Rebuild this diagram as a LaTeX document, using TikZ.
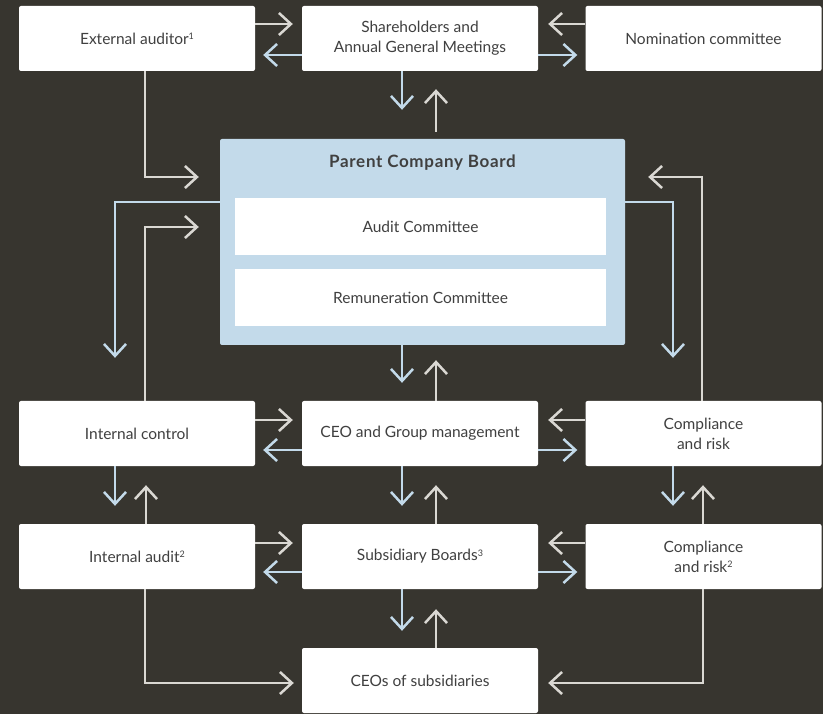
\documentclass[tikz,border=0pt]{standalone}
\usepackage{fontspec}
\setmainfont{Lato}
\usetikzlibrary{arrows.meta}
\definecolor{bgc}{HTML}{37352F}
\definecolor{grayc}{HTML}{DAD8D3}
\definecolor{bluec}{HTML}{C3DAEA}
\definecolor{txtc}{HTML}{404040}
\newcommand{\supx}[1]{\raisebox{0.6ex}{\fontsize{9}{9}\selectfont #1}}
\begin{document}
\begin{tikzpicture}[x=1pt,y=-1pt,
  box/.style={draw=none,fill=white,rounded corners=2pt,minimum width=236pt,minimum height=65pt,
    inner sep=0pt,align=center,text=txtc,font=\fontsize{15.5}{20}\selectfont},
  inbox/.style={fill=white,minimum width=371pt,minimum height=57pt,inner sep=0pt,text=txtc,
    font=\fontsize{15.5}{20}\selectfont},
  garr/.style={draw=grayc,line width=2.5pt,-{Straight Barb[length=12pt,width=22pt,line width=2.5pt]}},
  barr/.style={draw=bluec,line width=2.5pt,-{Straight Barb[length=12pt,width=22pt,line width=2.5pt]}},
]
\useasboundingbox (0,0) rectangle (823,714);
\fill[bgc] (0,0) rectangle (823,714);
% boxes
\node[box] (ext) at (137,38.5) {External auditor\supx{1}};
\node[box] (sh) at (420,38.5) {Shareholders and\\Annual General Meetings};
\node[box] (nom) at (703.5,38.5) {Nomination committee};
\node[fill=bluec,rounded corners=2pt,minimum width=405pt,minimum height=206pt,inner sep=0pt] (board) at (422.5,242) {};
\node[text=txtc,font=\fontsize{17}{20}\selectfont\bfseries\addfontfeatures{LetterSpace=4}] (title) at (422.5,163) {Parent Company Board};
\node[inbox] (aud) at (420.5,226.5) {Audit Committee};
\node[inbox] (rem) at (420.5,297.5) {Remuneration Committee};
\node[box] (ic) at (137,433.5) {Internal control};
\node[box] (ceo) at (420,433.5) {CEO and Group management};
\node[box] (cr) at (703.5,433.5) {Compliance\\and risk};
\node[box] (ia) at (137,556.5) {Internal audit\supx{2}};
\node[box] (sb) at (420,556.5) {Subsidiary Boards\supx{3}};
\node[box] (cr2) at (703.5,556.5) {Compliance\\and risk\supx{2}};
\node[box] (ceos) at (420,680.5) {CEOs of subsidiaries};
% horizontal pairs
\foreach \l/\r/\ya/\yb in {ext/sh/24/55, ic/ceo/420/450, ia/sb/543/572}{
  \draw[garr,shorten >=9pt] (\l.east |- 0,\ya) -- (\r.west |- 0,\ya);
  \draw[barr,shorten >=8pt] (\r.west |- 0,\yb) -- (\l.east |- 0,\yb);
}
\foreach \l/\r/\ya/\yb in {sh/nom/24/55, ceo/cr/420/450, sb/cr2/543/572}{
  \draw[garr,shorten >=10pt] (\r.west |- 0,\ya) -- (\l.east |- 0,\ya);
  \draw[barr,shorten >=8pt] (\l.east |- 0,\yb) -- (\r.west |- 0,\yb);
}
% verticals
\draw[barr,shorten >=29pt] (sh.south -| 402,0) -- (board.north -| 402,0);
\draw[garr,shorten <=7pt,shorten >=18pt] (board.north -| 436,0) -- (sh.south -| 436,0);
\draw[barr,shorten >=18pt] (board.south -| 402,0) -- (ceo.north -| 402,0);
\draw[garr,shorten >=15pt] (ceo.north -| 436,0) -- (board.south -| 436,0);
\foreach \u/\d/\xb/\xg in {ic/ia/115/146, ceo/sb/402/436, cr/cr2/673/703}{
  \draw[barr,shorten >=18pt] (\u.south -| \xb,0) -- (\d.north -| \xb,0);
  \draw[garr,shorten >=19pt] (\d.north -| \xg,0) -- (\u.south -| \xg,0);
}
\draw[barr,shorten >=17pt] (sb.south -| 402,0) -- (ceos.north -| 402,0);
\draw[garr,shorten >=20pt] (ceos.north -| 436,0) -- (sb.south -| 436,0);
% long connectors
\draw[garr,shorten >=21pt] (ext.south -| 145,0) |- (board.west |- 0,177);
\draw[barr,shorten >=43pt] (board.west |- 0,202) -| (ic.north -| 115,0);
\draw[garr,shorten >=21pt] (ic.north -| 145,0) |- (board.west |- 0,227);
\draw[barr,shorten >=43pt] (board.east |- 0,202) -| (cr.north -| 673,0);
\draw[garr,shorten >=23pt] (cr.north -| 702,0) |- (board.east |- 0,177);
\draw[garr,shorten >=8pt] (ia.south -| 145,0) |- (ceos.west |- 0,683);
\draw[garr,shorten >=10pt] (cr2.south -| 703,0) |- (ceos.east |- 0,683);
\end{tikzpicture}
\end{document}
